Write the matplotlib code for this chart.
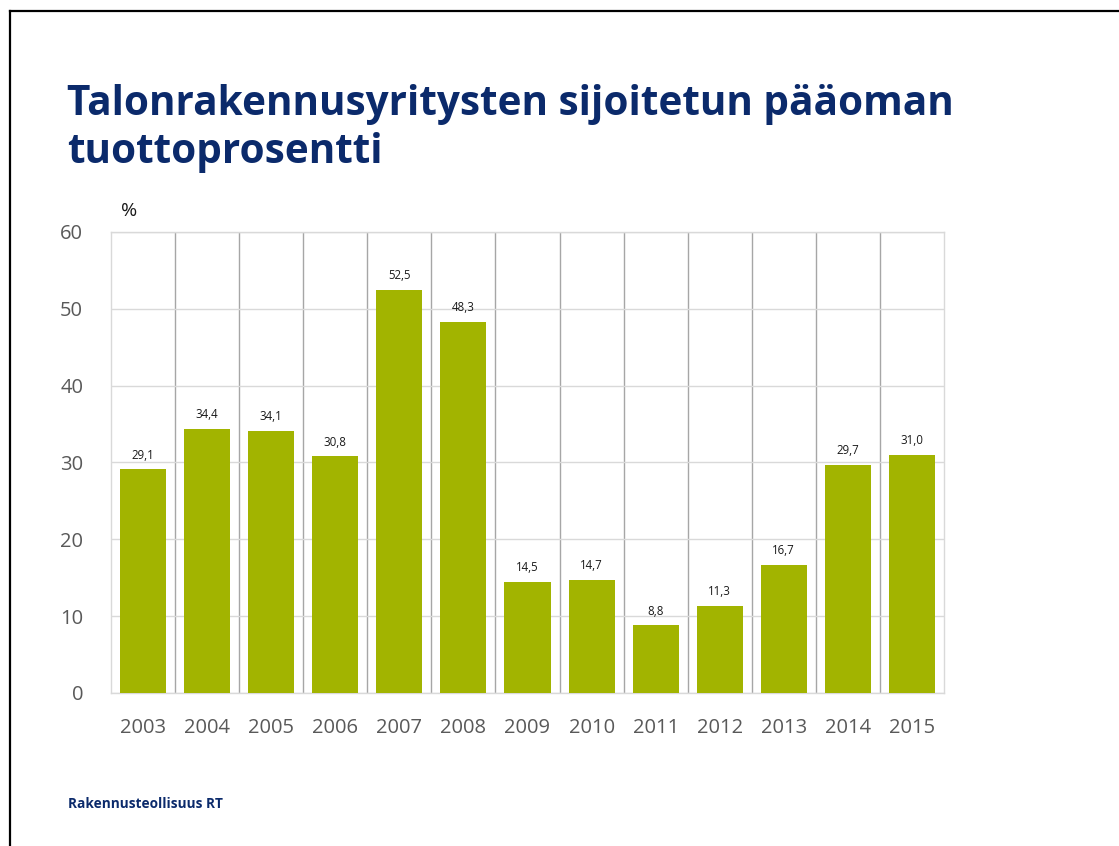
import matplotlib.pyplot as plt
from matplotlib.lines import Line2D

# ── Data ──────────────────────────────────────────────────────────────────────
years = ["2003", "2004", "2005", "2006", "2007", "2008", "2009",
         "2010", "2011", "2012", "2013", "2014", "2015"]
values = [29.1, 34.4, 34.1, 30.8, 52.5, 48.3, 14.5,
          14.7, 8.8, 11.3, 16.7, 29.7, 31.0]
yticks = [0, 10, 20, 30, 40, 50, 60]

TITLE_LINES = ["Talonrakennusyritysten sijoitetun pääoman", "tuottoprosentti"]
SOURCE = "Rakennusteollisuus RT"

NAVY = "#0B2A6B"
BAR = "#A2B400"
TICK = "#595959"

plt.rcParams["font.family"] = ["Open Sans", "DejaVu Sans"]

fig = plt.figure(figsize=(11.19, 8.46), dpi=100)

# slide border (left + top edges)
fig.add_artist(Line2D([0.0085, 0.0085], [0, 0.987], color="black", lw=1.6,
                      transform=fig.transFigure))
fig.add_artist(Line2D([0.0085, 1.0], [0.987, 0.987], color="black", lw=1.6,
                      transform=fig.transFigure))

# title, one text per line so baselines sit where the slide has them
for line, ypix in zip(TITLE_LINES, [115, 163]):
    fig.text(0.060, 1 - ypix / 846, line, fontsize=29.2, fontweight="bold",
             color=NAVY, va="baseline", ha="left")
fig.text(0.061, 1 - 808 / 846, SOURCE, fontsize=9.8, fontweight="bold",
         color=NAVY, va="baseline", ha="left")

ax = fig.add_axes([0.0992, 0.1809, 0.7444, 0.5449])
x = list(range(len(years)))
ax.bar(x, values, width=0.72, color=BAR, zorder=3)

for xi, v in zip(x, values):
    ax.text(xi, v + 1.0, f"{v:.1f}".replace(".", ","), ha="center", va="bottom",
            fontsize=8.3, color="#1a1a1a", zorder=4)

ax.set_xlim(-0.5, len(years) - 0.5)
ax.set_ylim(0, 60)
ax.set_yticks(yticks)
ax.set_xticks(x)
ax.set_xticklabels(years)
ax.tick_params(axis="both", length=0, labelsize=14.5, colors=TICK)
ax.tick_params(axis="y", pad=20)
ax.tick_params(axis="x", pad=18)

ax.grid(axis="y", color="#D9D9D9", lw=1.0, zorder=0)
for b in range(1, len(years)):
    ax.axvline(b - 0.5, color="#A6A6A6", lw=1.0, zorder=1)
for s in ax.spines.values():
    s.set_color("#D9D9D9")
    s.set_linewidth(1.0)

ax.text(0.012, 1.025, "%", transform=ax.transAxes, fontsize=14,
        color="#1a1a1a", ha="left", va="bottom")

fig.savefig("out.png", dpi=100)
